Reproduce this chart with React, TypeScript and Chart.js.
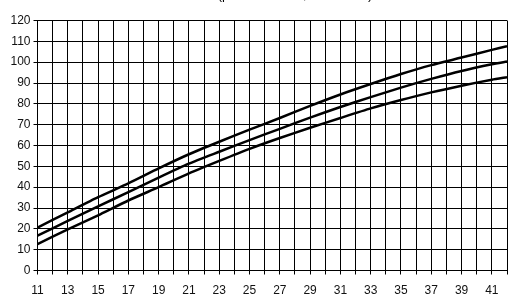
import React, { useEffect, useRef } from "react";
import { Chart, registerables } from "chart.js";

Chart.register(...registerables);

const weeks = [11, 13, 15, 17, 19, 21, 23, 25, 27, 29, 31, 33, 35, 37, 39, 41, 42];
const upper = [20.6, 27.9, 35.2, 41.8, 49.0, 55.8, 61.8, 67.6, 73.2, 79.0, 84.5, 89.5, 94.3, 98.6, 102.2, 105.9, 107.6];
const middle = [16.7, 23.8, 30.8, 37.6, 44.6, 51.3, 57.0, 62.6, 68.0, 73.4, 78.5, 83.2, 87.8, 92.0, 95.8, 99.0, 100.3];
const lower = [12.7, 19.7, 26.5, 33.6, 40.0, 46.6, 52.6, 58.4, 63.6, 68.5, 73.2, 77.8, 81.8, 85.5, 88.7, 91.6, 92.8];
const titleText = "(percentiles 10, 50 and 90)";

const toPts = (vals: number[]) => weeks.map((w, i) => ({ x: w, y: vals[i] }));

const titlePlugin = {
  id: "clippedTitle",
  afterDraw(chart: any) {
    const ctx = chart.ctx;
    ctx.save();
    ctx.font = "13px 'Liberation Sans', Arial, sans-serif";
    ctx.fillStyle = "#000";
    ctx.textAlign = "center";
    ctx.textBaseline = "alphabetic";
    ctx.fillText(titleText, 295, -1);
    ctx.restore();
  },
};

export default function App() {
  const ref = useRef<HTMLCanvasElement | null>(null);
  useEffect(() => {
    if (!ref.current) return;
    const line = (vals: number[]) => ({
      data: toPts(vals),
      borderColor: "#000",
      borderWidth: 2.5,
      pointRadius: 0,
      tension: 0.2,
      fill: false,
    });
    const chart = new Chart(ref.current, {
      type: "line",
      data: { datasets: [line(upper), line(middle), line(lower)] },
      plugins: [titlePlugin],
      options: {
        animation: false,
        responsive: false,
        layout: { padding: { top: 20.5, right: 23, left: 0, bottom: 0 } },
        plugins: { legend: { display: false }, tooltip: { enabled: false }, title: { display: false } },
        scales: {
          x: {
            type: "linear",
            min: 11,
            max: 42,
            afterFit: (s: any) => { s.height = 31.5; },
            ticks: {
              stepSize: 1,
              autoSkip: false,
              maxRotation: 0,
              padding: 9,
              color: "#111",
              font: { family: "'Liberation Sans', Arial, sans-serif", size: 12 },
              callback: (v: any) => (Number(v) % 2 === 1 ? String(v) : ""),
            },
            grid: { color: "#000", lineWidth: 1, tickLength: 4 },
            border: { color: "#000", width: 1 },
          },
          y: {
            min: 0,
            max: 120,
            afterFit: (s: any) => { s.width = 37.5; },
            ticks: {
              stepSize: 10,
              padding: 3,
              color: "#111",
              font: { family: "'Liberation Sans', Arial, sans-serif", size: 12 },
            },
            grid: { color: "#000", lineWidth: 1, tickLength: 4 },
            border: { color: "#000", width: 1 },
          },
        },
      },
    });
    return () => chart.destroy();
  }, []);
  return (
    <div style={{ position: "absolute", left: 0, top: 0, width: 530, height: 302, background: "#fff" }}>
      <canvas ref={ref} width={530} height={302} style={{ width: 530, height: 302 }} />
    </div>
  );
}
